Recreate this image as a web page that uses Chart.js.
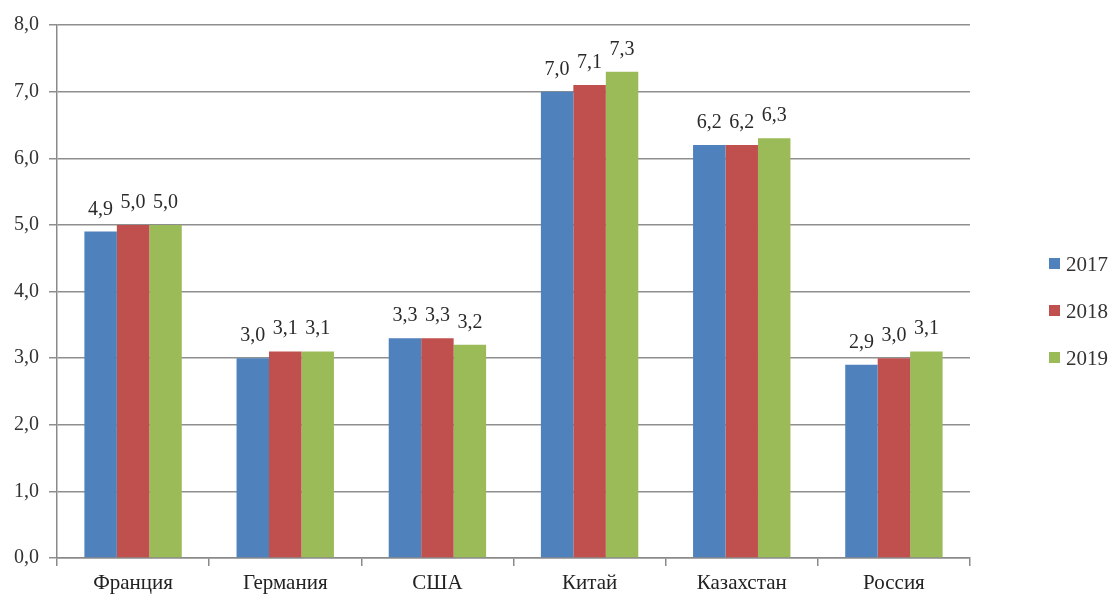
<!DOCTYPE html>
<html lang="ru">
<head>
<meta charset="UTF-8">
<title>chart</title>
<script src="https://cdn.jsdelivr.net/npm/chart.js"></script>
<style>
  html, body { margin: 0; padding: 0; background: #fff; }
  #wrap { width: 1118px; height: 603px; }
</style>
</head>
<body>
<div id="wrap"><canvas id="myChart"></canvas></div>
<script>
  // данные
  const countries = ['Франция', 'Германия', 'США', 'Китай', 'Казахстан', 'Россия'];
  const years = ['2017', '2018', '2019'];
  const v2017 = [4.9, 3.0, 3.3, 7.0, 6.2, 2.9];
  const v2018 = [5.0, 3.1, 3.3, 7.1, 6.2, 3.0];
  const v2019 = [5.0, 3.1, 3.2, 7.3, 6.3, 3.1];
  const colors = ['#4F81BD', '#C0504D', '#9BBB59'];

  const fmt = v => v.toFixed(1).replace('.', ',');
  const serif = '"Liberation Serif", "DejaVu Serif", serif';

  // подписи над столбиками
  const barLabels = {
    id: 'barLabels',
    afterDatasetsDraw(chart) {
      const ctx = chart.ctx;
      ctx.save();
      ctx.font = '20px ' + serif;
      ctx.fillStyle = '#2a2a2a';
      ctx.textAlign = 'center';
      ctx.textBaseline = 'alphabetic';
      chart.data.datasets.forEach((ds, i) => {
        chart.getDatasetMeta(i).data.forEach((bar, j) => {
          ctx.fillText(fmt(ds.data[j]), bar.x, bar.y - 17);
        });
      });
      ctx.restore();
    }
  };

  // легенда справа
  const sideLegend = {
    id: 'sideLegend',
    afterDraw(chart) {
      const ctx = chart.ctx;
      const x = chart.chartArea.right + 79;
      ctx.save();
      ctx.font = '21px ' + serif;
      ctx.textBaseline = 'middle';
      chart.data.datasets.forEach((ds, i) => {
        const y = 264 + i * 47;
        ctx.fillStyle = ds.backgroundColor;
        ctx.fillRect(x, y - 6, 11, 11);
        ctx.fillStyle = '#333';
        ctx.fillText(ds.label, x + 17, y + 1);
      });
      ctx.restore();
    }
  };

  const ctx = document.getElementById('myChart').getContext('2d');
  const myChart = new Chart(ctx, {
    type: 'bar',
    data: {
      labels: countries,
      datasets: [
        { label: years[0], data: v2017, backgroundColor: colors[0] },
        { label: years[1], data: v2018, backgroundColor: colors[1] },
        { label: years[2], data: v2019, backgroundColor: colors[2] }
      ]
    },
    options: {
      responsive: true,
      maintainAspectRatio: false,
      animation: false,
      layout: { padding: { top: 25, right: 148, left: 0, bottom: 0 } },
      categoryPercentage: 0.64,
      barPercentage: 1.0,
      plugins: {
        legend: { display: false },
        tooltip: { enabled: false }
      },
      scales: {
        x: {
          afterFit: s => { s.height = 45; },
          grid: { display: true, drawOnChartArea: false, offset: true, tickLength: 8, color: '#8a8a8a', lineWidth: 1.5 },
          border: { color: '#8a8a8a', width: 1.5 },
          ticks: { color: '#222', font: { family: serif, size: 21 }, padding: 5 }
        },
        y: {
          min: 0,
          max: 8,
          afterFit: s => { s.width = 57; },
          grid: { color: '#8f8f8f', lineWidth: 1.5, tickLength: 8 },
          border: { color: '#8a8a8a', width: 1.5 },
          ticks: { stepSize: 1, color: '#333', font: { family: serif, size: 20 }, padding: 10, callback: v => fmt(v) }
        }
      }
    },
    plugins: [barLabels, sideLegend]
  });
</script>
</body>
</html>
